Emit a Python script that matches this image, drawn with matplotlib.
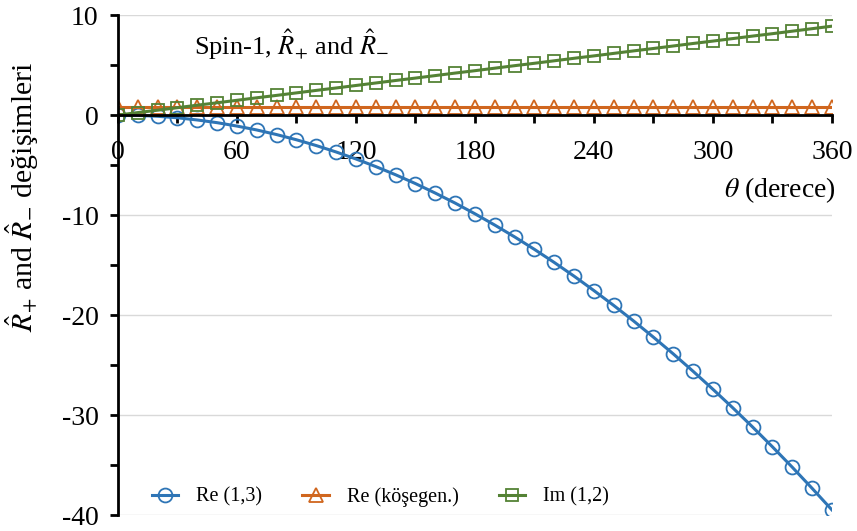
import matplotlib
matplotlib.use("Agg")
import matplotlib.pyplot as plt
from matplotlib.ticker import MultipleLocator

plt.rcParams['font.family'] = ['Liberation Serif', 'DejaVu Serif']
plt.rcParams['mathtext.fontset'] = 'stix'
plt.rcParams['axes.unicode_minus'] = False

# data, every 10 degrees
theta = list(range(0, 361, 10))
re13 = [0, -0.03, -0.12, -0.27, -0.49, -0.76, -1.10, -1.49, -1.95, -2.47,
        -3.05, -3.69, -4.39, -5.15, -5.97, -6.85, -7.80, -8.80, -9.87,
        -11.00, -12.18, -13.43, -14.74, -16.11, -17.55, -19.04, -20.59,
        -22.21, -23.88, -25.62, -27.42, -29.27, -31.19, -33.17, -35.21,
        -37.32, -39.48]
re_diag = [0.8] * 37
im12 = [0, 0.25, 0.49, 0.74, 0.99, 1.23, 1.48, 1.73, 1.97, 2.22, 2.47,
        2.71, 2.96, 3.21, 3.46, 3.70, 3.95, 4.20, 4.44, 4.69, 4.94, 5.18,
        5.43, 5.68, 5.92, 6.17, 6.42, 6.66, 6.91, 7.16, 7.40, 7.65, 7.90,
        8.14, 8.39, 8.64, 8.89]

fig = plt.figure(figsize=(8.57, 5.31), dpi=100)
ax = fig.add_axes([0.1377, 0.030, 0.833, 0.9416])

ax.plot(theta, re13, color='#2e75b6', lw=2.2, marker='o', ms=10,
        mfc='none', mew=1.3, label='Re (1,3)')
ax.plot(theta, re_diag, color='#d0661e', lw=2.2, marker='^', ms=10,
        mfc='none', mew=1.3, label='Re (köşegen.)')
ax.plot(theta, im12, color='#548235', lw=2.2, marker='s', ms=8.5,
        mfc='none', mew=1.3, label='Im (1,2)')

ax.set_xlim(0, 360)
ax.set_ylim(-40, 10)
ax.xaxis.set_major_locator(MultipleLocator(60))
ax.xaxis.set_minor_locator(MultipleLocator(30))
ax.yaxis.set_major_locator(MultipleLocator(10))
ax.yaxis.set_minor_locator(MultipleLocator(5))

ax.spines['top'].set_visible(False)
ax.spines['right'].set_visible(False)
ax.spines['bottom'].set_position(('data', 0))
ax.spines['bottom'].set_linewidth(2)
ax.spines['left'].set_linewidth(2)
ax.grid(axis='y', color='#d9d9d9', lw=1)
ax.set_axisbelow(True)

ax.tick_params(axis='both', which='both', width=2, labelsize=20)
ax.tick_params(axis='x', which='both', direction='out', length=6, pad=12)
ax.tick_params(axis='y', which='both', direction='out', length=6, pad=8)

ax.set_ylabel(r'$\hat{R}_{+}$ and $\hat{R}_{-}$ değişimleri', fontsize=21.5,
              va='center')
ax.yaxis.set_label_coords(-0.134, 0.636)
ax.text(1.005, 0.65, r'$\theta$ (derece)', transform=ax.transAxes,
        ha='right', va='center', fontsize=20)
ax.text(0.107, 0.94, r'Spin-1, $\hat{R}_{+}$ and $\hat{R}_{-}$',
        transform=ax.transAxes, ha='left', va='center', fontsize=19)

ax.legend(loc='lower left', bbox_to_anchor=(0.022, -0.02), ncol=3,
          frameon=False, fontsize=14.5, handlelength=1.3, columnspacing=2.0,
          handletextpad=0.9)

fig.savefig('out.png', dpi=100)
